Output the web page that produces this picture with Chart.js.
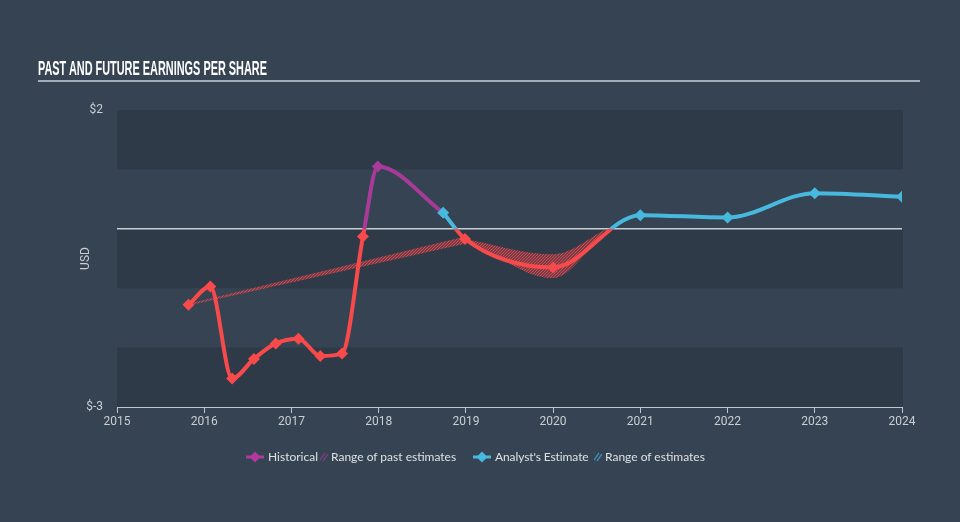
<!DOCTYPE html>
<html>
<head>
<meta charset="utf-8">
<script src="https://cdn.jsdelivr.net/npm/chart.js@4"></script>
<style>
  html, body { margin: 0; padding: 0; background: #354352; }
  #wrap { position: relative; width: 960px; height: 522px; overflow: hidden; }
  #c { position: absolute; left: 0; top: 0; }
  #title { position: absolute; left: 38px; top: 58px; font-family: "Liberation Sans Narrow", "Liberation Sans", sans-serif; font-weight: bold; font-size: 20px; line-height: 20px; color: #ffffff; white-space: nowrap; transform-origin: 0 0; }
  #rule { position: absolute; left: 38px; top: 80px; width: 882px; height: 2px; background: #a3acb6; }
  .lg { position: absolute; top: 450px; font-family: Lato, "Open Sans", sans-serif; font-size: 12px; line-height: 14px; color: #dde1e5; white-space: nowrap; }
  .lgi { position: absolute; }
</style>
</head>
<body>
<div id="wrap">
  <canvas id="c" width="960" height="522"></canvas>
  <div id="title">PAST AND FUTURE EARNINGS PER SHARE</div>
  <div id="rule"></div>
  <svg class="lgi" style="left:246px;top:451px" width="18" height="12"><line x1="0" y1="6" x2="18" y2="6" stroke="#b23a9f" stroke-width="3"/><polygon points="9,0.5 14.5,6 9,11.5 3.5,6" fill="#b23a9f"/></svg>
  <div class="lg" style="left:268px">Historical</div>
  <svg class="lgi" style="left:320px;top:452px" width="8" height="10"><line x1="0" y1="8" x2="5" y2="1" stroke="#7d3d83" stroke-width="1.3"/><line x1="3" y1="9" x2="8" y2="2" stroke="#7d3d83" stroke-width="1.3"/></svg>
  <div class="lg" style="left:331px">Range of past estimates</div>
  <svg class="lgi" style="left:473px;top:451px" width="18" height="12"><line x1="0" y1="6" x2="18" y2="6" stroke="#47b9de" stroke-width="3"/><polygon points="9,0.5 14.5,6 9,11.5 3.5,6" fill="#47b9de"/></svg>
  <div class="lg" style="left:495px;letter-spacing:-0.1px">Analyst's Estimate</div>
  <svg class="lgi" style="left:594px;top:452px" width="8" height="10"><line x1="0" y1="8" x2="5" y2="1" stroke="#3f8fb5" stroke-width="1.3"/><line x1="3" y1="9" x2="8" y2="2" stroke="#3f8fb5" stroke-width="1.3"/></svg>
  <div class="lg" style="left:605px">Range of estimates</div>
</div>
<script>
// ---- data ----
const histYears = [2015.82, 2016.07, 2016.32, 2016.57, 2016.82, 2017.08, 2017.33, 2017.58, 2017.82, 2017.99, 2018.74];
const histEPS   = [-1.28, -0.97, -2.52, -2.19, -1.93, -1.85, -2.14, -2.10, -0.13, 1.05, 0.27];

const foreYears = [2018.74, 2018.99, 2020.0, 2021.0, 2022.0, 2023.0, 2024.0];
const foreEPS   = [0.27, -0.17, -0.65, 0.23, 0.19, 0.60, 0.54];

const pastRangeYears = [2015.82, 2018.99];
const pastRangeLow   = [-1.29, -0.25];
const pastRangeHigh  = [-1.26, -0.13];

const estRangeYears = [2018.99, 2020.0, 2020.62];
const estRangeLow   = [-0.17, -0.83, 0];
const estRangeHigh  = [-0.17, -0.43, 0];

const xTickYears = [2015, 2016, 2017, 2018, 2019, 2020, 2021, 2022, 2023, 2024];
const yTickValues = [-3, 2];
const yTickLabels = ['$-3', '$2'];

// ---- styling ----
const RED = '#f8494b', PURPLE = '#a83a99', CYAN = '#47b9de';
const BG_BAND = '#2e3a48';
const AXIS = '#bfc6cd';
const LABEL = '#c9ced3';

function pts(xs, ys) { return xs.map((x, i) => ({ x: x, y: ys[i] })); }

function signGradient(pos, neg) {
  return function (ctx) {
    const chart = ctx.chart;
    const area = chart.chartArea;
    if (!area || !chart.scales.y) return neg;
    const y0 = chart.scales.y.getPixelForValue(0);
    const f = Math.min(1, Math.max(0, (y0 - area.top) / (area.bottom - area.top)));
    const g = chart.ctx.createLinearGradient(0, area.top, 0, area.bottom);
    g.addColorStop(0, pos); g.addColorStop(f, pos);
    g.addColorStop(f, neg); g.addColorStop(1, neg);
    return g;
  };
}
function signPoint(pos, neg) {
  return function (ctx) { return (ctx.raw && ctx.raw.y < 0) ? neg : pos; };
}

const hatchPlugin = {
  id: 'hatch',
  afterLayout(chart) {
    const W = chart.width, H = chart.height;
    const c = document.createElement('canvas'); c.width = W; c.height = H;
    const g = c.getContext('2d');
    const y0 = chart.scales.y.getPixelForValue(0);
    function stripes(color, top, bottom) {
      g.save(); g.beginPath(); g.rect(0, top, W, bottom - top); g.clip();
      g.strokeStyle = color; g.lineWidth = 1.2;
      for (let k = -H; k < W + H; k += 3) {
        g.beginPath(); g.moveTo(k, H); g.lineTo(k + H, 0); g.stroke();
      }
      g.restore();
    }
    stripes('rgba(71,185,222,0.85)', 0, y0);
    stripes('rgba(240,72,76,0.9)', y0, H);
    chart.$hatch = chart.ctx.createPattern(c, 'no-repeat');
  }
};

const bandPlugin = {
  id: 'bands',
  beforeDraw(chart) {
    const { ctx, chartArea: a, scales: { y } } = chart;
    ctx.save();
    ctx.fillStyle = BG_BAND;
    [[2, 1], [0, -1], [-2, -3]].forEach(([hi, lo]) => {
      const t = y.getPixelForValue(hi), b = y.getPixelForValue(lo);
      ctx.fillRect(a.left, t, a.right - a.left + 1, b - t);
    });
    ctx.restore();
  }
};

function hatchFill(ctx) { return ctx.chart.$hatch || 'rgba(236,70,74,0.4)'; }

new Chart(document.getElementById('c'), {
  type: 'line',
  data: {
    datasets: [
      {
        label: "Analyst's Estimate",
        data: pts(foreYears, foreEPS),
        borderColor: signGradient(CYAN, RED),
        borderWidth: 4,
        cubicInterpolationMode: 'monotone',
        pointStyle: 'rectRot',
        pointRadius: 6,
        pointBorderWidth: 0,
        pointBackgroundColor: signPoint(CYAN, RED),
        fill: false
      },
      {
        label: 'Historical',
        data: pts(histYears, histEPS),
        borderColor: signGradient(PURPLE, RED),
        borderWidth: 4,
        cubicInterpolationMode: 'monotone',
        pointStyle: 'rectRot',
        pointRadius: histYears.map((_, i) => i === histYears.length - 1 ? 0 : 6),
        pointBorderWidth: 0,
        pointBackgroundColor: signPoint(PURPLE, RED),
        fill: false
      },
      {
        label: 'est high',
        data: pts(estRangeYears, estRangeHigh),
        borderWidth: 0, pointRadius: 0,
        cubicInterpolationMode: 'monotone',
        fill: false
      },
      {
        label: 'est low',
        data: pts(estRangeYears, estRangeLow),
        borderWidth: 0, pointRadius: 0,
        cubicInterpolationMode: 'monotone',
        backgroundColor: hatchFill,
        fill: '-1'
      },
      {
        label: 'past high',
        data: pts(pastRangeYears, pastRangeHigh),
        borderWidth: 0, pointRadius: 0,
        fill: false
      },
      {
        label: 'past low',
        data: pts(pastRangeYears, pastRangeLow),
        borderWidth: 0, pointRadius: 0,
        backgroundColor: hatchFill,
        fill: '-1'
      }
    ]
  },
  options: {
    responsive: false,
    animation: false,
    events: [],
    layout: { padding: { top: 110, right: 58, left: 0, bottom: 0 } },
    plugins: { legend: { display: false }, tooltip: { enabled: false }, title: { display: false } },
    scales: {
      x: {
        type: 'linear',
        min: 2015, max: 2024,
        afterBuildTicks(s) { s.ticks = xTickYears.map(v => ({ value: v })); },
        afterFit(s) { s.height = 115; s.paddingLeft = 0; s.paddingRight = 0; },
        grid: { drawOnChartArea: false, drawTicks: true, tickLength: 6, color: AXIS, lineWidth: 1 },
        border: { display: true, color: AXIS, width: 1 },
        ticks: {
          color: LABEL, padding: 2, maxRotation: 0, autoSkip: false,
          font: { family: 'Roboto, "Open Sans", sans-serif', size: 12 },
          callback: v => String(v)
        }
      },
      y: {
        min: -3, max: 2,
        afterBuildTicks(s) { s.ticks = [-3, -2, -1, 0, 1, 2].map(v => ({ value: v })); },
        afterFit(s) { s.width = 117; s.paddingTop = 0; s.paddingBottom = 0; },
        grid: {
          drawTicks: false,
          color: c => (c.tick && c.tick.value === 0) ? '#c8cdd2' : 'rgba(0,0,0,0)',
          lineWidth: c => (c.tick && c.tick.value === 0) ? 1.5 : 0
        },
        border: { display: false },
        ticks: {
          color: LABEL, padding: 14, autoSkip: false,
          font: { family: 'Roboto, "Open Sans", sans-serif', size: 12 },
          callback: v => { const i = yTickValues.indexOf(v); return i >= 0 ? yTickLabels[i] : ''; }
        },
        title: {
          display: true, text: 'USD', color: LABEL,
          font: { family: 'Roboto, "Open Sans", sans-serif', size: 12 },
          padding: { top: 79, bottom: 0 }
        }
      }
    }
  },
  plugins: [hatchPlugin, bandPlugin]
});

// fit title width to the reference
(function () {
  const t = document.getElementById('title');
  const w = t.getBoundingClientRect().width;
  if (w > 0) t.style.transform = 'scaleX(' + (229 / w) + ')';
})();
</script>
</body>
</html>
